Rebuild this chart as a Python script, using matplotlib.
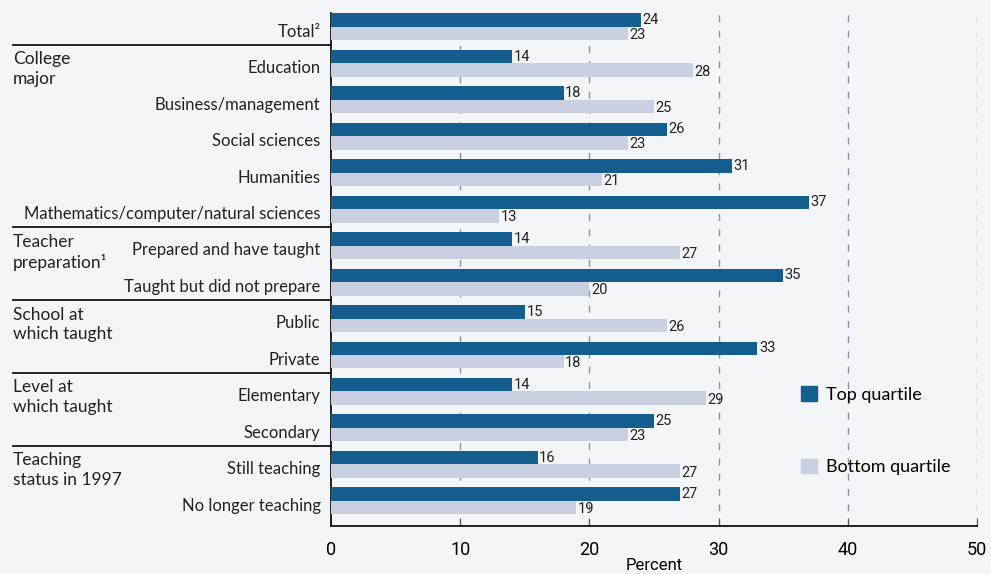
import matplotlib.pyplot as plt
from matplotlib.patches import Patch
from matplotlib.transforms import blended_transform_factory
import numpy as np

categories = ["Total²", "Education", "Business/management", "Social sciences", "Humanities",
              "Mathematics/computer/natural sciences", "Prepared and have taught",
              "Taught but did not prepare", "Public", "Private", "Elementary", "Secondary",
              "Still teaching", "No longer teaching"]
top_quartile = [24, 14, 18, 26, 31, 37, 14, 35, 15, 33, 14, 25, 16, 27]
bottom_quartile = [23, 28, 25, 23, 21, 13, 27, 20, 26, 18, 29, 23, 27, 19]
# group label, first row index
groups = [("College\nmajor", 1), ("Teacher\npreparation¹", 6), ("School at\nwhich taught", 8),
          ("Level at\nwhich taught", 10), ("Teaching\nstatus in 1997", 12)]

bg = "#f4f5f9"
dark = "#135d8f"
light = "#c9d0e2"
txt_font = ["Lato", "DejaVu Sans"]
num_font = ["Roboto", "DejaVu Sans"]

fig = plt.figure(figsize=(9.91, 5.74), dpi=100, facecolor=bg)
ax = fig.add_axes([331 / 991, 1 - 526 / 574, 646 / 991, 513 / 574], facecolor=bg)

y = np.arange(len(categories))
bh = 0.37
ax.barh(y - bh / 2, top_quartile, height=bh, color=dark, zorder=3)
ax.barh(y + bh / 2, bottom_quartile, height=bh, color=light, zorder=3)

for i in range(len(categories)):
    ax.text(top_quartile[i] + 0.12, y[i] - bh / 2, str(top_quartile[i]), va="center", ha="left",
            fontsize=10.5, family=num_font, color="#222222", zorder=4)
    ax.text(bottom_quartile[i] + 0.12, y[i] + bh / 2 + 0.04, str(bottom_quartile[i]), va="center",
            ha="left", fontsize=10.5, family=num_font, color="#222222", zorder=4)
    ax.annotate(categories[i], xy=(0, y[i]), xytext=(-7.5, -3.5), textcoords="offset points",
                ha="right", va="center", fontsize=12, family=txt_font, color="#222222",
                annotation_clip=False)

ax.set_xlim(0, 50)
ax.set_ylim(13.69, -0.38)
ax.set_xticks([0, 10, 20, 30, 40, 50])
ax.set_yticks([])
ax.tick_params(axis="x", direction="in", length=6, pad=11, labelsize=13, color="#555555")
for lab in ax.get_xticklabels():
    lab.set_family(num_font)
ax.set_xlabel("Percent", fontsize=12, family=num_font, labelpad=-1)
for x in [10, 20, 30, 40, 50]:
    ax.axvline(x, color="#8a93a8", linewidth=1, linestyle=(0, (5, 6)), zorder=1)
for s in ["top", "right"]:
    ax.spines[s].set_visible(False)
for s in ["left", "bottom"]:
    ax.spines[s].set_linewidth(1.3)
    ax.spines[s].set_color("#111111")

trans = blended_transform_factory(fig.transFigure, ax.transData)
for label, start in groups:
    fig.text(13 / 991, start - 0.33, label, transform=trans, ha="left", va="top",
             fontsize=12.5, family=txt_font, color="#222222", linespacing=1.3)
for yy in [0.5, 5.5, 7.5, 9.5, 11.5]:
    ax.plot([13 / 991, 331 / 991], [yy, yy], transform=trans, color="#111111",
            linewidth=1.3, clip_on=False)

handles = [Patch(color=dark), Patch(color=light)]
fig.legend(handles, ["Top quartile", "Bottom quartile"], loc="upper left",
           bbox_to_anchor=(785 / 991, 1 - 370 / 574), frameon=False,
           prop={"family": txt_font, "size": 13}, handlelength=0.85, handleheight=0.85,
           handletextpad=0.5, labelspacing=3.1)

fig.savefig("out.png", dpi=100, facecolor=bg)
